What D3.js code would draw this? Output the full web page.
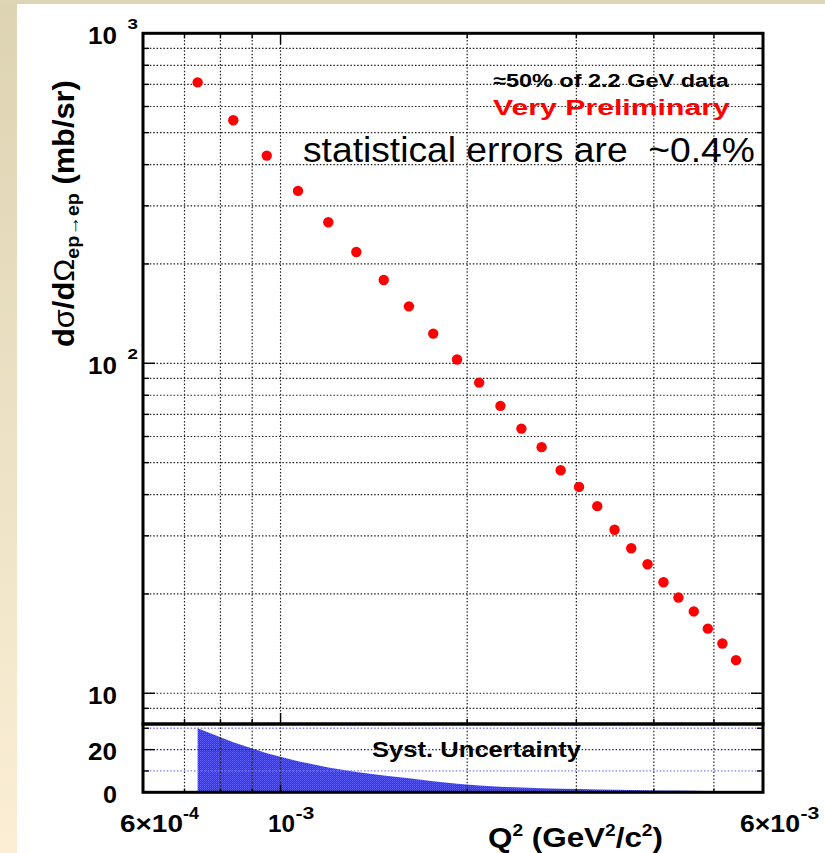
<!DOCTYPE html>
<html>
<head>
<meta charset="utf-8">
<script src="https://cdn.jsdelivr.net/npm/d3@7"></script>
<style>
  html, body { margin: 0; padding: 0; }
  body { width: 825px; height: 853px; overflow: hidden; background: #fff; }
  svg text { font-family: "Liberation Sans", Arial, Helvetica, sans-serif; }
</style>
</head>
<body>
<svg id="chart" width="825" height="853"></svg>
<script>
// Q^2 bins (GeV^2/c^2)
const q2 = [0.735e-3, 0.839e-3, 0.950e-3, 1.067e-3, 1.194e-3, 1.325e-3, 1.467e-3,
            1.611e-3, 1.763e-3, 1.926e-3, 2.091e-3, 2.263e-3, 2.446e-3, 2.637e-3,
            2.830e-3, 3.030e-3, 3.242e-3, 3.457e-3, 3.678e-3, 3.908e-3, 4.146e-3,
            4.383e-3, 4.640e-3, 4.888e-3, 5.160e-3, 5.428e-3];
// differential cross section (mb/sr)
const xsec = [710, 545, 426, 333, 267.5, 217.4, 178.8, 148.8, 123.0, 102.7, 87.4,
              74.3, 63.4, 55.7, 47.4, 42.2, 36.9, 31.3, 27.5, 24.6, 21.7, 19.5,
              17.7, 15.7, 14.15, 12.6];
// systematic uncertainty band
const syst = [30, 23.5, 18.3, 14.6, 11.6, 9.5, 7.9, 6.6, 5.2, 4.0, 3.2, 2.6, 2.2,
              1.9, 1.7, 1.5, 1.35, 1.2, 1.1, 1.0, 0.9, 0.8, 0.7, 0.6, 0.55, 0.5];

// axis ranges and grid values
const xDomain = [6e-4, 6e-3];
const xGrid = [7e-4, 8e-4, 9e-4, 1e-3, 2e-3, 3e-3, 4e-3, 5e-3];
const xMajor = [1e-3];
const yDomain = [8.07, 1000];
const yGrid = [9, 10, 20, 30, 40, 50, 60, 70, 80, 90, 100, 200, 300, 400, 500, 600, 700, 800, 900];
const yMajor = [10, 100];
const sDomain = [0, 32];
const sGrid = [10, 20, 30];
const sMajor = [0, 20];

const svg = d3.select("#chart");

// slide background around the plot image
const defs = svg.append("defs");
const lg = defs.append("linearGradient").attr("id", "slideBg")
  .attr("x1", 0).attr("y1", 0).attr("x2", 0).attr("y2", 1);
lg.append("stop").attr("offset", 0).attr("stop-color", "#ddd4b3");
lg.append("stop").attr("offset", 1).attr("stop-color", "#fbeed5");
svg.append("rect").attr("x", 0).attr("y", 0).attr("width", 825).attr("height", 853).attr("fill", "url(#slideBg)");
svg.append("rect").attr("x", 0).attr("y", 0).attr("width", 825).attr("height", 4).attr("fill", "#ddd5b6");
svg.append("rect").attr("x", 17).attr("y", 4).attr("width", 808).attr("height", 849).attr("fill", "#ffffff");

// fine dithered blue fill for the band
const pat = defs.append("pattern").attr("id", "bandFill").attr("patternUnits", "userSpaceOnUse")
  .attr("width", 2).attr("height", 2);
pat.append("rect").attr("width", 2).attr("height", 2).attr("fill", "#3030ff");
pat.append("rect").attr("width", 1).attr("height", 1).attr("fill", "#6464ff");
pat.append("rect").attr("x", 1).attr("y", 1).attr("width", 1).attr("height", 1).attr("fill", "#4545ff");

const L = 143, R = 763, T = 33.3, MID = 724, B = 792.3;

const x = d3.scaleLog().domain(xDomain).range([L, R]);
const y = d3.scaleLog().domain(yDomain).range([MID, T]);
const ys = d3.scaleLinear().domain(sDomain).range([B, MID]);

const dotted = (sel, col, w) => sel.attr("stroke", col).attr("stroke-width", w)
  .attr("stroke-dasharray", "1.5,1.9").attr("fill", "none");

// ---- main pad grid ----
const gMain = svg.append("g");
gMain.selectAll("line.vg").data(xGrid).join("line")
  .attr("x1", d => x(d)).attr("x2", d => x(d)).attr("y1", T).attr("y2", MID)
  .call(dotted, "#222", 1.2);
gMain.selectAll("line.hg").data(yGrid).join("line")
  .attr("x1", L).attr("x2", R).attr("y1", d => y(d)).attr("y2", d => y(d))
  .call(dotted, "#222", 1.2);

// ---- lower pad: systematic band ----
const area = d3.area().x((d, i) => x(q2[i])).y0(ys(0)).y1(d => ys(d));
svg.append("path").datum(syst).attr("d", area).attr("fill", "url(#bandFill)");

const gLow = svg.append("g");
gLow.selectAll("line.vg").data(xGrid).join("line")
  .attr("x1", d => x(d)).attr("x2", d => x(d)).attr("y1", MID).attr("y2", B)
  .call(dotted, "#222", 1.2);
gLow.selectAll("line.hg").data(sGrid).join("line")
  .attr("x1", L).attr("x2", R).attr("y1", d => ys(d)).attr("y2", d => ys(d))
  .call(dotted, d => d === 20 ? "#1e1e8c" : "#7d7dff", 1.3);

// ---- ticks ----
const ticks = svg.append("g").attr("stroke", "#000").attr("stroke-width", 1.4);
yGrid.forEach(v => {
  const len = yMajor.includes(v) ? 12 : 6;
  ticks.append("line").attr("x1", L).attr("x2", L + len).attr("y1", y(v)).attr("y2", y(v));
  ticks.append("line").attr("x1", R).attr("x2", R - len).attr("y1", y(v)).attr("y2", y(v));
});
sGrid.concat([0]).forEach(v => {
  const len = sMajor.includes(v) ? 12 : 6;
  ticks.append("line").attr("x1", L).attr("x2", L + len).attr("y1", ys(v)).attr("y2", ys(v));
  ticks.append("line").attr("x1", R).attr("x2", R - len).attr("y1", ys(v)).attr("y2", ys(v));
});
xGrid.forEach(v => {
  const len = xMajor.includes(v) ? 11 : 5;
  ticks.append("line").attr("x1", x(v)).attr("x2", x(v)).attr("y1", T).attr("y2", T + len);
  ticks.append("line").attr("x1", x(v)).attr("x2", x(v)).attr("y1", MID).attr("y2", MID - len);
  ticks.append("line").attr("x1", x(v)).attr("x2", x(v)).attr("y1", B).attr("y2", B - len * 0.7);
});

// ---- frames ----
svg.append("rect").attr("x", L).attr("y", T).attr("width", R - L).attr("height", MID - T)
  .attr("fill", "none").attr("stroke", "#000").attr("stroke-width", 3);
svg.append("rect").attr("x", L).attr("y", MID).attr("width", R - L).attr("height", B - MID)
  .attr("fill", "none").attr("stroke", "#000").attr("stroke-width", 3);

// ---- data points ----
svg.append("g").selectAll("circle").data(xsec).join("circle")
  .attr("cx", (d, i) => x(q2[i])).attr("cy", d => y(d)).attr("r", 5.2).attr("fill", "#ff0000");

// ---- text helper: place text with its left edge at x0 and a given width ----
function placeText(x0, y0, width, build, rotate) {
  const g = svg.append("g");
  const t = g.append("text").attr("x", 0).attr("y", 0).style("white-space", "pre");
  build(t);
  const bb = t.node().getBBox();
  const s = width ? width / bb.width : 1;
  if (rotate) g.attr("transform", `translate(${x0},${y0}) rotate(-90) scale(${s},1) translate(${-bb.x},0)`);
  else g.attr("transform", `translate(${x0},${y0}) scale(${s},1) translate(${-bb.x},0)`);
  return g;
}
const bold = t => t.attr("font-weight", "bold").attr("fill", "#000");

// y-axis labels of the main pad
const yLabels = [{v: 1000, exp: "3"}, {v: 100, exp: "2"}, {v: 10, exp: null}];
yLabels.forEach(d => {
  const yy = y(d.v);
  placeText(88, yy + 11, 29, t => bold(t).attr("font-size", 24).text("10"));
  if (d.exp) placeText(127.5, yy - 4, 10.5, t => bold(t).attr("font-size", 14.5).text(d.exp));
});

// y-axis labels of the lower pad
const sLabels = ["0", "20"];
sMajor.forEach((v, i) => {
  const w = sLabels[i].length === 1 ? 14 : 29;
  placeText(117 - w, ys(v) + 10.5, w, t => bold(t).attr("font-size", 24).text(sLabels[i]));
});

// x-axis labels
const xLabels = [
  {x0: 120, w: 63, base: "6\u00d710", sx: 183, sw: 16, exp: "-4"},
  {x0: 268, w: 27, base: "10", sx: 295.5, sw: 19, exp: "-3"},
  {x0: 740, w: 60, base: "6\u00d710", sx: 800.5, sw: 19, exp: "-3"}
];
xLabels.forEach(d => {
  placeText(d.x0, 831.5, d.w, t => bold(t).attr("font-size", 24).text(d.base));
  placeText(d.sx, 818.5, d.sw, t => bold(t).attr("font-size", 16).text(d.exp));
});

// x-axis title
placeText(488, 847, 175, t => {
  bold(t).attr("font-size", 28);
  t.append("tspan").text("Q");
  t.append("tspan").attr("font-size", 17).attr("dy", -11).text("2");
  t.append("tspan").attr("dy", 11).text(" (GeV");
  t.append("tspan").attr("font-size", 17).attr("dy", -11).text("2");
  t.append("tspan").attr("dy", 11).text("/c");
  t.append("tspan").attr("font-size", 17).attr("dy", -11).text("2");
  t.append("tspan").attr("dy", 11).text(")");
});

// y-axis title (rotated)
placeText(74, 347, 267, t => {
  bold(t).attr("font-size", 29);
  t.append("tspan").text("d");
  t.append("tspan").attr("font-weight", "normal").text("\u03c3");
  t.append("tspan").text("/d");
  t.append("tspan").attr("font-weight", "normal").text("\u03a9");
  t.append("tspan").attr("font-size", 18.5).attr("dy", 4.5).text("ep\u2192ep");
  t.append("tspan").attr("dy", -4.5).text(" (mb/sr)");
}, true);

// annotations
placeText(493, 87, 237, t => bold(t).attr("font-size", 18.5).text("\u224850% of 2.2 GeV data"));
placeText(493, 115, 238, t => t.attr("font-weight", "bold").attr("fill", "#ff0000").attr("font-size", 22).text("Very Preliminary"));
placeText(303, 161.5, 452, t => t.attr("fill", "#000").attr("font-size", 35).text("statistical errors are  ~0.4%"));
placeText(372, 757, 210, t => bold(t).attr("font-size", 22).text("Syst. Uncertainty"));
</script>
</body>
</html>
